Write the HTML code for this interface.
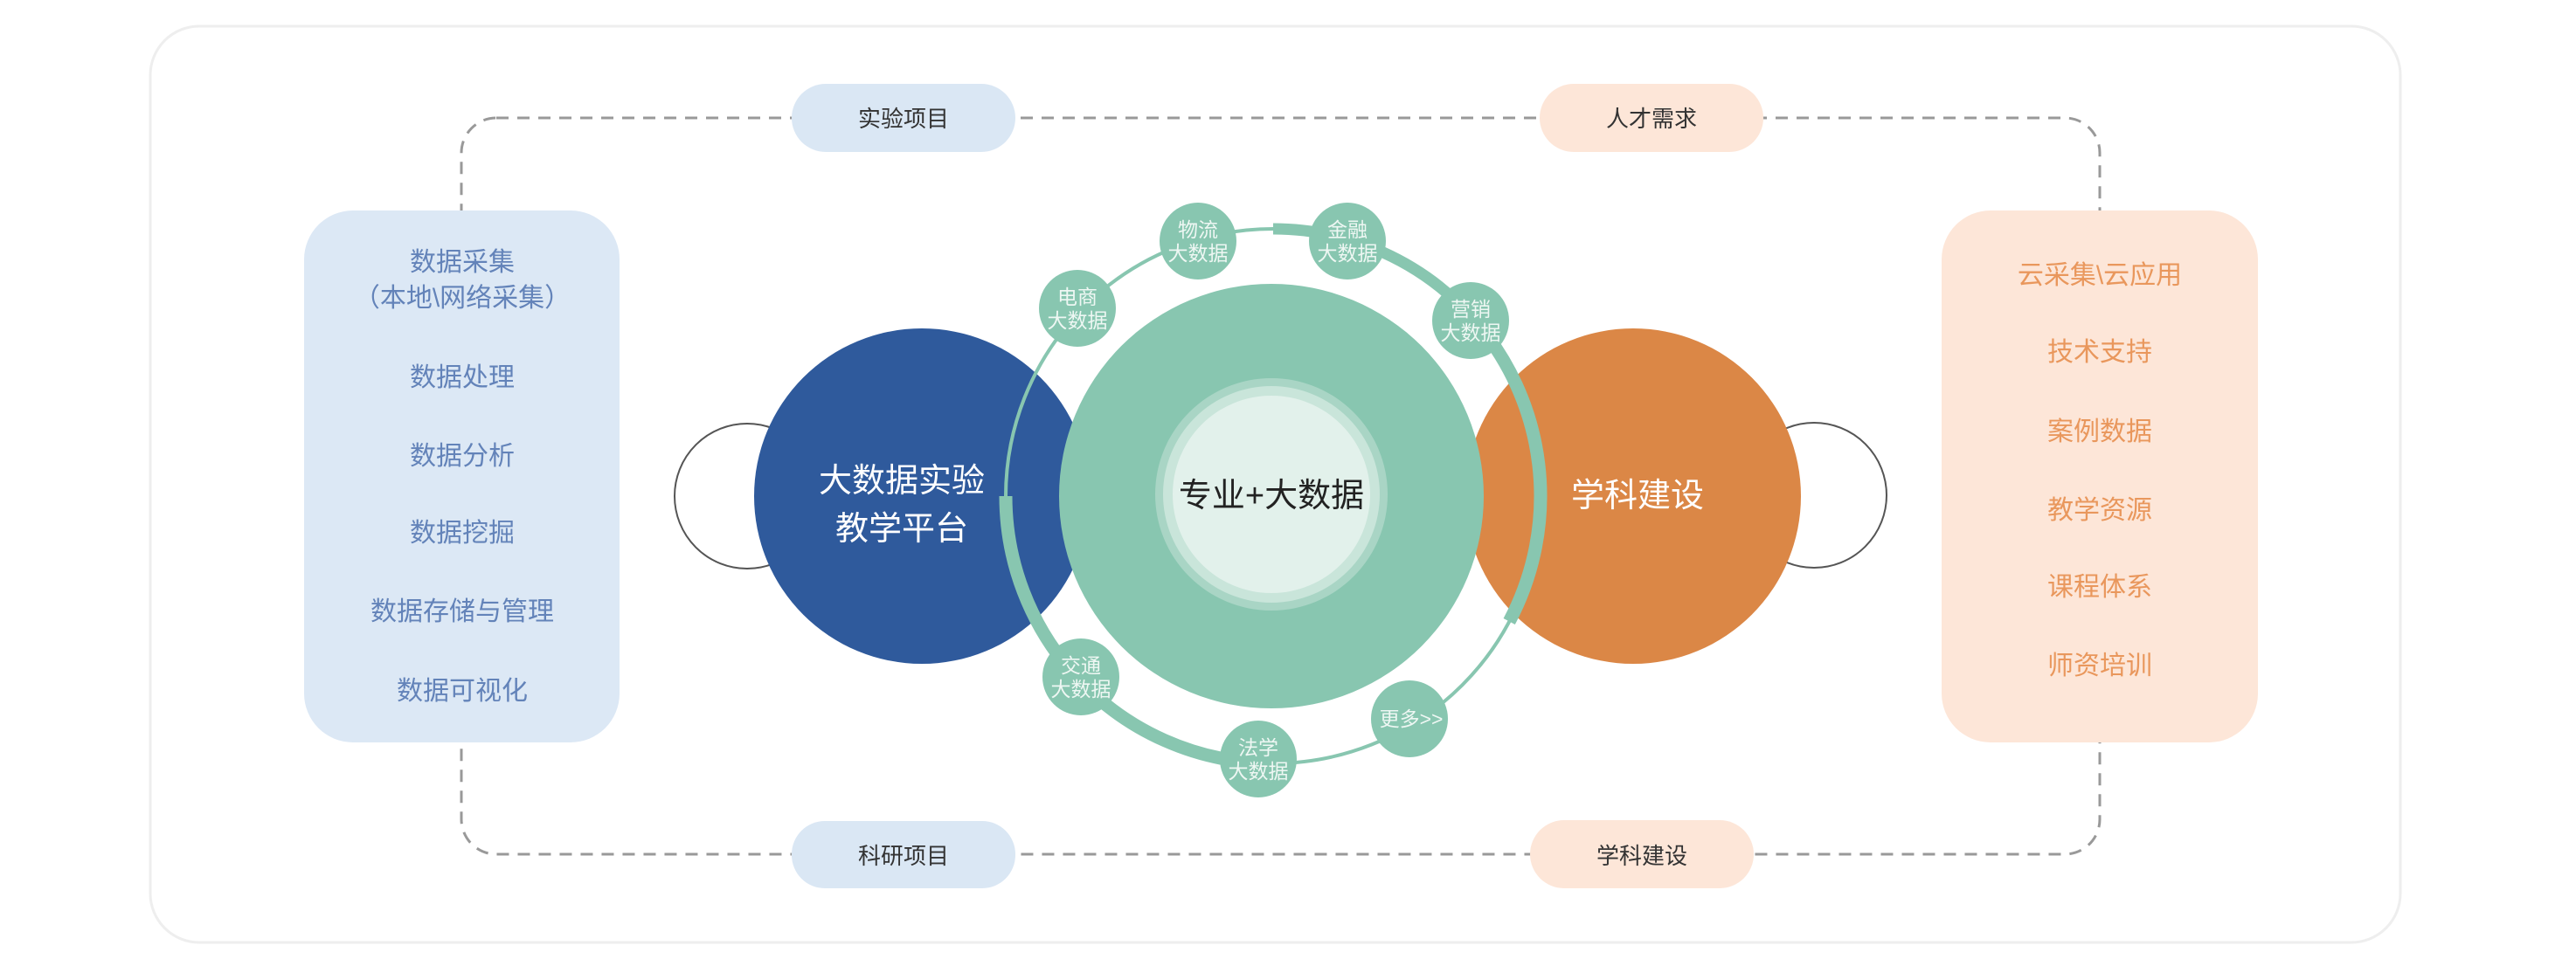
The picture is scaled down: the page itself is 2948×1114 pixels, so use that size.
<!DOCTYPE html>
<html><head><meta charset="utf-8"><style>
html,body{margin:0;padding:0;background:#fff}
svg{display:block}
text{font-family:"Liberation Sans","Noto Sans CJK SC",sans-serif}
</style></head><body>
<svg width="2948" height="1114" viewBox="0 0 2948 1114" xmlns="http://www.w3.org/2000/svg">
<rect x="172" y="30" width="2575" height="1049" rx="56" fill="#fff" stroke="#eeeeee" stroke-width="3"/>
<rect x="528" y="135" width="1875" height="843" rx="40" fill="none" stroke="#999" stroke-width="3" stroke-dasharray="14 10"/>
<rect x="906" y="96" width="256" height="78" rx="39" fill="#dae7f4"/>
<text x="1034" y="145" font-size="26" text-anchor="middle" fill="#333">实验项目</text>
<rect x="1762" y="96" width="256" height="78" rx="39" fill="#fde6d8"/>
<text x="1890" y="145" font-size="26" text-anchor="middle" fill="#333">人才需求</text>
<rect x="906" y="940" width="256" height="77" rx="38" fill="#dae7f4"/>
<text x="1034" y="989" font-size="26" text-anchor="middle" fill="#333">科研项目</text>
<rect x="1751" y="939" width="256" height="78" rx="39" fill="#fde6d8"/>
<text x="1879" y="989" font-size="26" text-anchor="middle" fill="#333">学科建设</text>
<rect x="348" y="241" width="361" height="609" rx="56" fill="#dce8f5"/>
<g font-size="30" text-anchor="middle" fill="#6383b9">
<text x="529" y="310">数据采集</text>
<text x="529" y="351">（本地\网络采集）</text>
<text x="529" y="442">数据处理</text>
<text x="529" y="532">数据分析</text>
<text x="529" y="620">数据挖掘</text>
<text x="529" y="710">数据存储与管理</text>
<text x="529" y="801">数据可视化</text>
</g>
<rect x="2222" y="241" width="362" height="609" rx="56" fill="#fde6d8"/>
<g font-size="30" text-anchor="middle" fill="#e9975c">
<text x="2403" y="325">云采集\云应用</text>
<text x="2403" y="413">技术支持</text>
<text x="2403" y="504">案例数据</text>
<text x="2403" y="594">教学资源</text>
<text x="2403" y="682">课程体系</text>
<text x="2403" y="772">师资培训</text>
</g>
<circle cx="855" cy="568" r="83" fill="none" stroke="#555" stroke-width="2"/>
<circle cx="2076" cy="567" r="83" fill="none" stroke="#555" stroke-width="2"/>
<circle cx="1055" cy="568" r="192" fill="#2f5a9c"/>
<circle cx="1869" cy="568" r="192" fill="#db8746"/>
<text x="1032" y="563" font-size="38" text-anchor="middle" fill="#fff">大数据实验</text>
<text x="1032" y="618" font-size="38" text-anchor="middle" fill="#fff">教学平台</text>
<text x="1874" y="580" font-size="38" text-anchor="middle" fill="#fff">学科建设</text>
<circle cx="1455" cy="568" r="243" fill="#88c6b0"/>
<circle cx="1455" cy="566" r="133" fill="#a9d5c5"/>
<circle cx="1455" cy="566" r="124" fill="#c9e5da"/>
<circle cx="1455" cy="566" r="113" fill="#e2f1eb"/>
<text x="1455" y="580" font-size="38" text-anchor="middle" fill="#222">专业+大数据</text>
<circle cx="1457" cy="568" r="306" fill="none" stroke="#88c6b0" stroke-width="4"/>
<path d="M1151,568 A306,306 0 0 0 1441,873.6" fill="none" stroke="#88c6b0" stroke-width="15"/>
<path d="M1727.2,711.5 A306,306 0 0 0 1685.9,364.8" fill="none" stroke="#88c6b0" stroke-width="15"/>
<path d="M1685.9,364.8 A306,306 0 0 0 1457,262" fill="none" stroke="#88c6b0" stroke-width="13"/>
<g fill="#88c6b0">
<circle cx="1233" cy="353" r="44"/>
<circle cx="1371" cy="276" r="44"/>
<circle cx="1542" cy="276" r="44"/>
<circle cx="1683" cy="367" r="44"/>
<circle cx="1237" cy="775" r="44"/>
<circle cx="1440" cy="869" r="44"/>
<circle cx="1613" cy="823" r="44"/>
</g>
<g font-size="23" text-anchor="middle" fill="#eef7f3">
<text x="1233" y="348">电商</text><text x="1233" y="375">大数据</text>
<text x="1371" y="271">物流</text><text x="1371" y="298">大数据</text>
<text x="1542" y="271">金融</text><text x="1542" y="298">大数据</text>
<text x="1683" y="362">营销</text><text x="1683" y="389">大数据</text>
<text x="1237" y="770">交通</text><text x="1237" y="797">大数据</text>
<text x="1440" y="864">法学</text><text x="1440" y="891">大数据</text>
<text x="1615" y="831">更多&gt;&gt;</text>
</g>
</svg>
</body></html>
